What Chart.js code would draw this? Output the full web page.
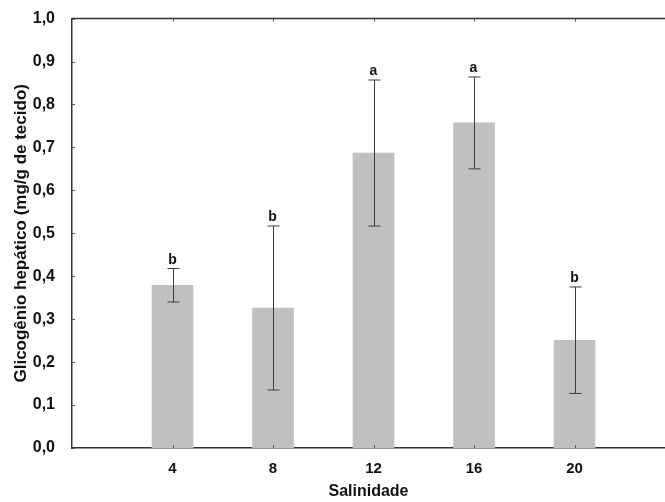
<!DOCTYPE html>
<html>
<head>
<meta charset="utf-8">
<script src="https://cdn.jsdelivr.net/npm/chart.js@4"></script>
<style>
  html, body { margin: 0; padding: 0; background: #fff; }
  #wrap { width: 665px; height: 502px; }
</style>
</head>
<body>
<div id="wrap"><canvas id="glicogenioChart" width="665" height="502"></canvas></div>
<script>
// ===== DADOS =====
const salinidade = [4, 8, 12, 16, 20];
const glicogenio = [0.379, 0.326, 0.687, 0.757, 0.251];
const erroPadrao = [0.039, 0.191, 0.170, 0.107, 0.124];
const letras = ['b', 'b', 'a', 'a', 'b'];
const yTicks = [0, 0.1, 0.2, 0.3, 0.4, 0.5, 0.6, 0.7, 0.8, 0.9, 1.0];

const corEixo = '#333333';
const fonte = 'Liberation Sans, Arial, sans-serif';

// error bars, significance letters, top border and inner tick marks
const errorBarsPlugin = {
	id: 'errorBars',
	afterDatasetsDraw(chart) {
		const ctx = chart.ctx;
		const x = chart.scales.x;
		const y = chart.scales.y;
		const area = chart.chartArea;
		ctx.save();

		// error bars
		ctx.strokeStyle = '#3a3a3a';
		ctx.lineWidth = 1;
		salinidade.forEach((s, i) => {
			const px = Math.round(x.getPixelForValue(s)) + 0.5;
			const top = y.getPixelForValue(glicogenio[i] + erroPadrao[i]);
			const bot = y.getPixelForValue(glicogenio[i] - erroPadrao[i]);
			ctx.beginPath();
			ctx.moveTo(px, top);
			ctx.lineTo(px, bot);
			ctx.moveTo(px - 6, top);
			ctx.lineTo(px + 6, top);
			ctx.moveTo(px - 6, bot);
			ctx.lineTo(px + 6, bot);
			ctx.stroke();

			// letter above the cap
			ctx.fillStyle = '#111';
			ctx.font = 'bold 14px ' + fonte;
			ctx.textAlign = 'center';
			ctx.textBaseline = 'alphabetic';
			ctx.fillText(letras[i], px - 1, top - 5);
		});

		// top border
		ctx.strokeStyle = corEixo;
		ctx.lineWidth = 1.5;
		ctx.beginPath();
		ctx.moveTo(area.left, area.top);
		ctx.lineTo(chart.width, area.top);
		ctx.stroke();

		// small inner ticks
		ctx.lineWidth = 1;
		ctx.strokeStyle = '#555';
		ctx.beginPath();
		yTicks.forEach(v => {
			const py = Math.round(y.getPixelForValue(v)) + 0.5;
			ctx.moveTo(area.left, py);
			ctx.lineTo(area.left + 3, py);
		});
		salinidade.forEach(s => {
			const px = Math.round(x.getPixelForValue(s)) + 0.5;
			ctx.moveTo(px, area.bottom);
			ctx.lineTo(px, area.bottom - 3);
			ctx.moveTo(px, area.top);
			ctx.lineTo(px, area.top + 3);
		});
		ctx.stroke();
		ctx.restore();
	}
};

// ===== GRAFICO =====
const ctx = document.getElementById('glicogenioChart').getContext('2d');

new Chart(ctx, {
	type: 'bar',
	data: {
		datasets: [{
			label: 'Glicogênio hepático',
			data: salinidade.map((s, i) => ({ x: s, y: glicogenio[i] })),
			backgroundColor: '#c0c0c0',
			borderWidth: 0,
			barThickness: 41
		}]
	},
	options: {
		responsive: false,
		animation: false,
		layout: { padding: { top: 15, right: 0, left: 0, bottom: 0 } },
		plugins: {
			legend: { display: false },
			tooltip: { enabled: false }
		},
		scales: {
			x: {
				type: 'linear',
				offset: false,
				min: 0,
				max: 23.6,
				afterBuildTicks: function(scale) {
					scale.ticks = salinidade.map(v => ({ value: v }));
				},
				afterFit: function(scale) { scale.height = 54; },
				grid: { display: false, offset: false },
				border: { display: true, color: corEixo, width: 1.5 },
				ticks: {
					color: '#111',
					padding: 4,
					font: { family: fonte, size: 15, weight: 'bold' }
				},
				title: {
					display: true,
					text: 'Salinidade',
					color: '#111',
					padding: { top: 0, bottom: 1 },
					font: { family: fonte, size: 16, weight: 'bold' }
				}
			},
			y: {
				min: 0,
				max: 1,
				afterBuildTicks: function(scale) {
					scale.ticks = yTicks.map(v => ({ value: v }));
				},
				afterFit: function(scale) { scale.width = 72; },
				grid: { display: false },
				border: { display: true, color: corEixo, width: 1.5 },
				ticks: {
					color: '#111',
					padding: 9,
					font: { family: fonte, size: 16, weight: 'bold' },
					callback: function(value) {
						return value.toFixed(1).replace('.', ',');
					}
				},
				title: {
					display: true,
					text: 'Glicogênio hepático (mg/g de tecido)',
					color: '#111',
					padding: { top: 11, bottom: 0 },
					font: { family: fonte, size: 17, weight: 'bold' }
				}
			}
		}
	},
	plugins: [errorBarsPlugin]
});
</script>
</body>
</html>
